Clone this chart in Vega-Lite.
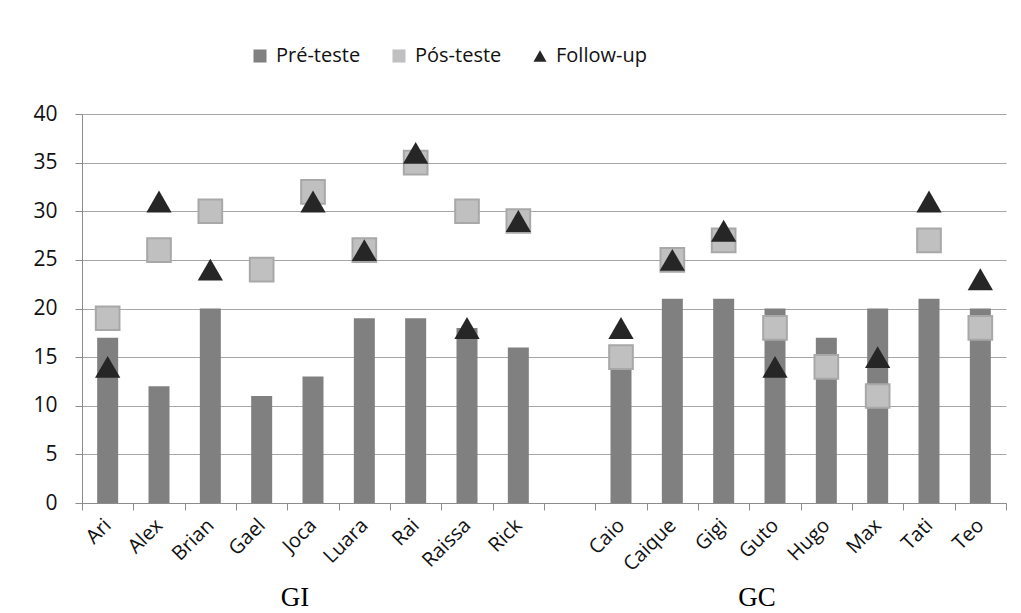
{
  "$schema": "https://vega.github.io/schema/vega-lite/v6.json",
  "width": 924,
  "height": 389,
  "autosize": {"type": "none"},
  "padding": {"left": 82, "top": 114, "right": 15, "bottom": 110},
  "background": "white",
  "config": {
    "font": "Open Sans",
    "view": {"stroke": null},
    "axis": {"labelFont": "Open Sans", "labelColor": "#111111", "labelFontSize": 20, "domainColor": "#8c8c8c", "tickColor": "#8c8c8c", "gridColor": "#a6a6a6"},
    "legend": {"title": null, "orient": "none", "direction": "horizontal", "legendX": 168, "legendY": -68, "labelFontSize": 20, "labelFont": "Open Sans", "labelColor": "#111111", "symbolSize": 170, "columnPadding": 28, "labelOffset": 6, "symbolStrokeWidth": 0}
  },
  "datasets": {
    "scores": [
      {"name": "Ari", "serie": "Pré-teste", "value": 17},
      {"name": "Alex", "serie": "Pré-teste", "value": 12},
      {"name": "Brian", "serie": "Pré-teste", "value": 20},
      {"name": "Gael", "serie": "Pré-teste", "value": 11},
      {"name": "Joca", "serie": "Pré-teste", "value": 13},
      {"name": "Luara", "serie": "Pré-teste", "value": 19},
      {"name": "Rai", "serie": "Pré-teste", "value": 19},
      {"name": "Raissa", "serie": "Pré-teste", "value": 18},
      {"name": "Rick", "serie": "Pré-teste", "value": 16},
      {"name": " ", "serie": "Pré-teste", "value": null},
      {"name": "Caio", "serie": "Pré-teste", "value": 15},
      {"name": "Caique", "serie": "Pré-teste", "value": 21},
      {"name": "Gigi", "serie": "Pré-teste", "value": 21},
      {"name": "Guto", "serie": "Pré-teste", "value": 20},
      {"name": "Hugo", "serie": "Pré-teste", "value": 17},
      {"name": "Max", "serie": "Pré-teste", "value": 20},
      {"name": "Tati", "serie": "Pré-teste", "value": 21},
      {"name": "Teo", "serie": "Pré-teste", "value": 20},
      {"name": "Ari", "serie": "Pós-teste", "value": 19},
      {"name": "Alex", "serie": "Pós-teste", "value": 26},
      {"name": "Brian", "serie": "Pós-teste", "value": 30},
      {"name": "Gael", "serie": "Pós-teste", "value": 24},
      {"name": "Joca", "serie": "Pós-teste", "value": 32},
      {"name": "Luara", "serie": "Pós-teste", "value": 26},
      {"name": "Rai", "serie": "Pós-teste", "value": 35},
      {"name": "Raissa", "serie": "Pós-teste", "value": 30},
      {"name": "Rick", "serie": "Pós-teste", "value": 29},
      {"name": "Caio", "serie": "Pós-teste", "value": 15},
      {"name": "Caique", "serie": "Pós-teste", "value": 25},
      {"name": "Gigi", "serie": "Pós-teste", "value": 27},
      {"name": "Guto", "serie": "Pós-teste", "value": 18},
      {"name": "Hugo", "serie": "Pós-teste", "value": 14},
      {"name": "Max", "serie": "Pós-teste", "value": 11},
      {"name": "Tati", "serie": "Pós-teste", "value": 27},
      {"name": "Teo", "serie": "Pós-teste", "value": 18},
      {"name": "Ari", "serie": "Follow-up", "value": 14},
      {"name": "Alex", "serie": "Follow-up", "value": 31},
      {"name": "Brian", "serie": "Follow-up", "value": 24},
      {"name": "Joca", "serie": "Follow-up", "value": 31},
      {"name": "Luara", "serie": "Follow-up", "value": 26},
      {"name": "Rai", "serie": "Follow-up", "value": 36},
      {"name": "Raissa", "serie": "Follow-up", "value": 18},
      {"name": "Rick", "serie": "Follow-up", "value": 29},
      {"name": "Caio", "serie": "Follow-up", "value": 18},
      {"name": "Caique", "serie": "Follow-up", "value": 25},
      {"name": "Gigi", "serie": "Follow-up", "value": 28},
      {"name": "Guto", "serie": "Follow-up", "value": 14},
      {"name": "Max", "serie": "Follow-up", "value": 15},
      {"name": "Tati", "serie": "Follow-up", "value": 31},
      {"name": "Teo", "serie": "Follow-up", "value": 23}
    ],
    "groups": [
      {"label": "GI", "name": "Joca"},
      {"label": "GC", "name": "Guto"}
    ]
  },
  "encoding": {
    "x": {
      "field": "name", "type": "nominal",
      "scale": {"domain": ["Ari","Alex","Brian","Gael","Joca","Luara","Rai","Raissa","Rick"," ","Caio","Caique","Gigi","Guto","Hugo","Max","Tati","Teo"], "paddingInner": 0, "paddingOuter": 0},
      "axis": {"title": null, "labelAngle": -45, "labelAlign": "right", "labelBaseline": "middle", "tickBand": "extent", "tickSize": 7, "labelPadding": 12, "grid": false}
    }
  },
  "layer": [
    {
      "data": {"name": "scores"},
      "encoding": {
        "y": {
          "field": "value", "type": "quantitative",
          "scale": {"domain": [0, 40], "nice": false},
          "axis": {"title": null, "values": [0,5,10,15,20,25,30,35,40], "grid": true, "tickSize": 7, "labelPadding": 18, "labelFontSize": 21, "domain": true}
        },
        "color": {
          "field": "serie", "type": "nominal",
          "scale": {"domain": ["Pré-teste","Pós-teste","Follow-up"], "range": ["#808080","#c0c0c0","#262626"]},
          "legend": {"title": null}
        },
        "shape": {
          "field": "serie", "type": "nominal",
          "scale": {"domain": ["Pré-teste","Pós-teste","Follow-up"], "range": ["square","square","triangle-up"]},
          "legend": {"title": null}
        }
      },
      "layer": [
        {
          "transform": [{"filter": "datum.serie === 'Pré-teste'"}],
          "mark": {"type": "bar", "width": 21}
        },
        {
          "transform": [{"filter": "datum.serie === 'Pós-teste'"}],
          "mark": {"type": "point", "filled": true, "opacity": 1, "size": 560, "stroke": "#a8a8a8", "strokeWidth": 2}
        },
        {
          "transform": [{"filter": "datum.serie === 'Follow-up'"}],
          "mark": {"type": "point", "filled": true, "opacity": 1, "size": 640}
        }
      ]
    },
    {
      "data": {"name": "groups"},
      "mark": {"type": "text", "font": "Liberation Serif", "fontSize": 27, "fill": "#000000", "baseline": "alphabetic", "align": "center", "dx": -18, "dy": 103},
      "encoding": {
        "x": {"field": "name", "type": "nominal"},
        "y": {"datum": 0, "type": "quantitative"},
        "text": {"field": "label"}
      }
    }
  ]
}
